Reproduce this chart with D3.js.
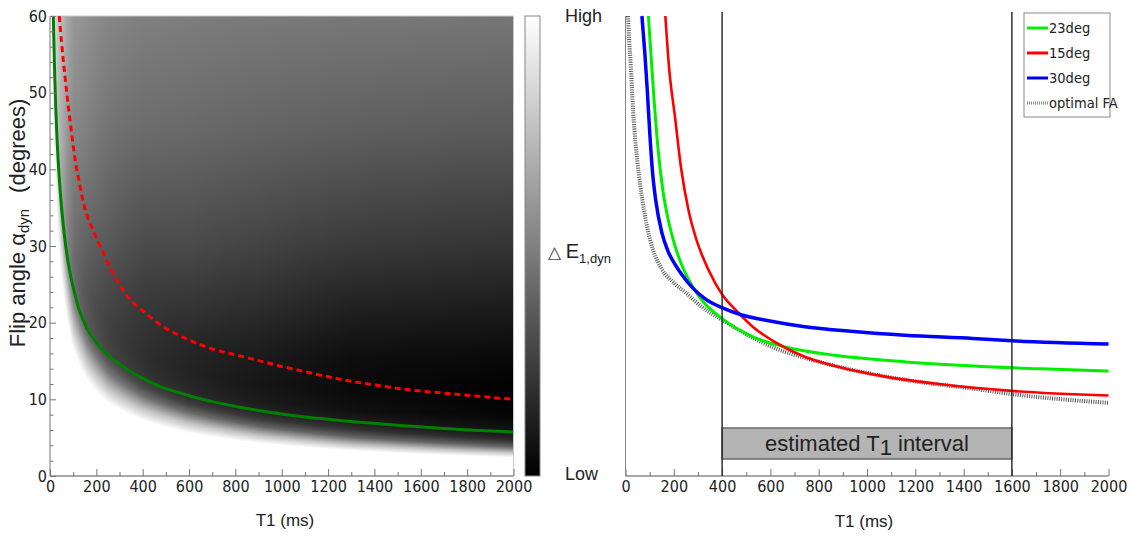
<!DOCTYPE html>
<html>
<head>
<meta charset="utf-8">
<script src="https://cdn.jsdelivr.net/npm/d3@7"></script>
<style>
  html, body { margin: 0; padding: 0; background: #fff; }
  svg { display: block; }
</style>
</head>
<body>
<svg id="chart" width="1132" height="536"></svg>
<script>
// ---------------- data ----------------
const t1MajorTicks = [0, 200, 400, 600, 800, 1000, 1200, 1400, 1600, 1800, 2000];
const t1MinorTicks = d3.range(100, 2000, 200);
const flipMajorTicks = [0, 10, 20, 30, 40, 50, 60];
const flipMinorTicks = d3.range(2, 60, 2).filter(v => v % 10 !== 0);

// Left panel: Ernst-angle curve (green)
const ernstT1    = [14, 16, 20, 25, 30, 37, 45, 55, 68, 80, 94, 110, 122, 140, 166, 195, 222, 260, 310, 360, 410, 480, 554, 620, 700, 780, 850, 920, 1000, 1100, 1200, 1320, 1420, 1560, 1700, 1850, 2000];
const ernstAlpha = [60.5, 57.6, 52.7, 47.9, 44.2, 40.3, 36.8, 33.4, 30.0, 27.6, 25.4, 23.4, 22.0, 20.6, 18.9, 17.6, 16.6, 15.5, 14.4, 13.4, 12.6, 11.6, 10.9, 10.3, 9.7, 9.2, 8.8, 8.45, 8.1, 7.7, 7.4, 7.05, 6.8, 6.5, 6.2, 5.95, 5.75];

// Left panel: optimal dynamic flip angle (red dashed)
const optT1    = [40, 50, 65, 80, 94, 110, 122, 140, 160, 194, 216, 266, 338, 410, 482, 554, 626, 698, 842, 986, 1130, 1274, 1418, 1562, 1706, 1850, 2000];
const optAlpha = [60, 56.5, 52, 48, 44.5, 41.0, 39.0, 36.2, 34.0, 31.5, 30.0, 26.8, 23.3, 21.3, 19.6, 18.4, 17.4, 16.6, 15.5, 14.4, 13.4, 12.5, 11.8, 11.2, 10.8, 10.4, 10.0];

// Left panel: ΔE map. For each T1 column, twelve [flip angle, gray] stops
// (white edge, three fade levels, green line, dark core, upper bands, top).
// Gray 0 = low, 255 = high.
const heatT1 = [10, 20, 35, 60, 100, 160, 250, 400, 600, 900, 1300, 2000];
const heatStops = [
  [[50, 255], [56, 252], [60, 250], [62, 249], [64, 248], [65, 248], [66, 247], [67, 247], [68, 246], [69, 246], [70, 246], [71, 245]],
  [[38, 255], [46, 242], [50, 235], [51.5, 231], [52.7, 228], [54, 227], [55, 226], [56, 225], [57, 224], [58, 223], [59, 222], [60, 222]],
  [[30, 255], [35, 232], [38.5, 208], [40, 200], [41.3, 195], [43, 194], [45, 193], [48, 192], [51, 193], [54, 195], [57, 197], [60, 198]],
  [[23, 255], [26.5, 218], [29.5, 175], [31, 160], [32.2, 152], [35, 153], [38, 156], [41, 160], [45, 165], [50, 170], [55, 174], [60, 178]],
  [[16.5, 255], [19.5, 200], [22.5, 142], [24, 122], [25.2, 112], [27.5, 110], [30, 112], [35, 120], [40, 128], [45, 135], [52, 145], [60, 152]],
  [[12.5, 255], [15, 195], [17.5, 125], [18.8, 100], [20, 88], [22.5, 86], [25, 86], [30, 97], [35, 108], [40, 120], [50, 134], [60, 144]],
  [[9.5, 255], [11.5, 195], [13.5, 120], [14.9, 88], [16.1, 70], [18, 67], [20, 66], [25, 75], [30, 88], [36, 100], [48, 120], [60, 134]],
  [[7.3, 255], [8.8, 195], [10.5, 110], [11.7, 72], [12.8, 55], [14, 50], [16, 48], [20, 53], [25, 63], [32, 80], [45, 108], [60, 128]],
  [[5.6, 255], [6.9, 195], [8.3, 105], [9.4, 62], [10.4, 45], [11.7, 38], [13.5, 35], [17, 38], [22, 52], [30, 74], [45, 105], [60, 125]],
  [[4.3, 255], [5.3, 195], [6.5, 100], [7.5, 55], [8.5, 35], [10, 26], [12, 22], [16, 28], [21, 42], [30, 67], [45, 100], [60, 122]],
  [[3.3, 255], [4.1, 195], [5.1, 100], [6.1, 50], [7.1, 28], [8.5, 16], [11, 10], [15, 13], [21, 30], [30, 58], [45, 95], [60, 120]],
  [[2.4, 255], [3.0, 200], [3.8, 100], [4.7, 42], [5.7, 20], [8, 5], [11, 0], [15, 8], [20, 22], [30, 52], [45, 90], [60, 118]]
];

// Right panel: ΔE (normalised, 0 = low, 1 = high) vs T1 for fixed flip angles
const seriesNames = ["23deg", "15deg", "30deg", "optimal FA"];
const deg23T1 = [95, 105, 118, 135, 155, 180, 205, 240, 280, 320, 400, 530, 665, 875, 1160, 1440, 1720, 2000];
const deg23E  = [1.0, 0.92, 0.82, 0.71, 0.62, 0.55, 0.50, 0.45, 0.41, 0.38, 0.342, 0.302, 0.280, 0.262, 0.248, 0.239, 0.233, 0.228];
const deg15T1 = [165, 180, 205, 230, 260, 290, 317, 371, 404, 458, 528, 623, 734, 875, 1087, 1298, 1600, 2000];
const deg15E  = [1.0, 0.89, 0.78, 0.67, 0.58, 0.52, 0.48, 0.42, 0.392, 0.36, 0.324, 0.29, 0.261, 0.238, 0.215, 0.200, 0.185, 0.175];
const deg30T1 = [68, 80, 90, 100, 112, 125, 150, 175, 205, 230, 276, 330, 404, 482, 598, 735, 946, 1157, 1438, 1600, 2000];
const deg30E  = [1.0, 0.92, 0.84, 0.75, 0.66, 0.60, 0.53, 0.49, 0.46, 0.44, 0.41, 0.385, 0.365, 0.35, 0.337, 0.325, 0.314, 0.306, 0.299, 0.294, 0.287];
const optFAT1 = [10, 15, 22, 32, 50, 70, 90, 115, 150, 200, 255, 310, 404, 528, 623, 734, 946, 1157, 1438, 1600, 2000];
const optFAE  = [1.0, 0.95, 0.89, 0.79, 0.68, 0.60, 0.54, 0.49, 0.45, 0.42, 0.396, 0.37, 0.338, 0.300, 0.277, 0.258, 0.230, 0.209, 0.190, 0.178, 0.159];

const intervalT1 = [400, 1600];
const intervalLabel = ["estimated T", "1", " interval"];

// ---------------- layout ----------------
const svg = d3.select("#chart");
const tickFont = "'Liberation Sans Narrow', 'Arial Narrow', 'DejaVu Sans Condensed', sans-serif";
const textFont = "'Liberation Sans', Arial, sans-serif";

const xL = d3.scaleLinear().domain([0, 2000]).range([50, 513.5]);
const yL = d3.scaleLinear().domain([0, 60]).range([476, 16]);
const xR = d3.scaleLinear().domain([0, 2000]).range([625.5, 1108.5]);
const yR = d3.scaleLinear().domain([0, 1]).range([476, 16]);

// ---------------- heat map ----------------
// stops of neighbouring columns are blended role by role (in log T1),
// then the gray is read off piecewise-linearly along the flip angle
function grayAt(stops, a) {
  if (a <= stops[0][0]) return stops[0][1];
  for (let i = 1; i < stops.length; i++) {
    if (a <= stops[i][0]) {
      const [a0, g0] = stops[i - 1], [a1, g1] = stops[i];
      return a1 === a0 ? g1 : g0 + (g1 - g0) * (a - a0) / (a1 - a0);
    }
  }
  return stops[stops.length - 1][1];
}
(function drawHeat() {
  const x0 = xL(0), y0 = yL(60);
  const w = Math.round(xL(2000) - x0), h = Math.round(yL(0) - y0);
  const canvas = document.createElement("canvas");
  canvas.width = w; canvas.height = h;
  const ctx = canvas.getContext("2d");
  const img = ctx.createImageData(w, h);
  const logT = heatT1.map(Math.log);
  const last = heatT1.length - 1;
  for (let px = 0; px < w; px++) {
    const t = xL.invert(x0 + px + 0.5);
    let stops = null;
    if (t > heatT1[0]) {
      if (t >= heatT1[last]) stops = heatStops[last];
      else {
        const j = d3.bisectRight(heatT1, t) - 1;
        const f = (Math.log(t) - logT[j]) / (logT[j + 1] - logT[j]);
        stops = heatStops[j].map((s, k) => [
          (1 - f) * s[0] + f * heatStops[j + 1][k][0],
          (1 - f) * s[1] + f * heatStops[j + 1][k][1]
        ]);
      }
    }
    for (let py = 0; py < h; py++) {
      const a = yL.invert(y0 + py + 0.5);
      const g = stops ? grayAt(stops, a) : 255;
      const k = (py * w + px) * 4;
      img.data[k] = img.data[k + 1] = img.data[k + 2] = Math.round(g);
      img.data[k + 3] = 255;
    }
  }
  ctx.putImageData(img, 0, 0);
  svg.append("image")
    .attr("x", x0).attr("y", y0).attr("width", w).attr("height", h)
    .attr("preserveAspectRatio", "none")
    .attr("href", canvas.toDataURL());
})();

// frame on the open sides of the map
svg.append("path")
  .attr("d", `M${xL(0)},${yL(60)}H${xL(2000)}V${yL(0)}`)
  .attr("fill", "none").attr("stroke", "#c8c8c8").attr("stroke-width", 1);

// left panel curves
const lineL = d3.line().x(d => xL(d[0])).y(d => yL(d[1])).curve(d3.curveMonotoneX);
svg.append("clipPath").attr("id", "clipL").append("rect")
  .attr("x", xL(0)).attr("y", yL(60)).attr("width", xL(2000) - xL(0)).attr("height", yL(0) - yL(60));

svg.append("path")
  .datum(ernstT1.map((t, i) => [t, ernstAlpha[i]]))
  .attr("clip-path", "url(#clipL)")
  .attr("d", lineL).attr("fill", "none").attr("stroke", "#008000").attr("stroke-width", 3);

svg.append("path")
  .datum(optT1.map((t, i) => [t, optAlpha[i]]))
  .attr("clip-path", "url(#clipL)")
  .attr("d", lineL).attr("fill", "none").attr("stroke", "#ff0000").attr("stroke-width", 3)
  .attr("stroke-dasharray", "6,4");

// ---------------- axes ----------------
function bottomAxis(scale, gy) {
  const g = svg.append("g").attr("transform", `translate(0,${gy})`);
  g.append("g").call(d3.axisBottom(scale).tickValues(t1MinorTicks).tickSize(-4).tickFormat(""))
    .call(s => s.select(".domain").remove())
    .call(s => s.selectAll("line").attr("stroke", "#777"));
  g.append("g").call(d3.axisBottom(scale).tickValues(t1MajorTicks).tickSize(-7).tickPadding(5).tickFormat(d3.format("d")))
    .call(s => s.select(".domain").remove())
    .call(s => s.selectAll("line").attr("stroke", "#777"))
    .call(s => s.selectAll("text").attr("font-family", tickFont).attr("font-size", 16).attr("fill", "#222"));
  g.append("line").attr("x1", scale.range()[0]).attr("x2", scale.range()[1])
    .attr("stroke", "#555").attr("stroke-width", 1);
}
bottomAxis(xL, 476);
bottomAxis(xR, 476);

(function leftAxis() {
  const g = svg.append("g").attr("transform", `translate(${xL(0)},0)`);
  g.append("g").call(d3.axisLeft(yL).tickValues(flipMinorTicks).tickSize(-3.5).tickFormat(""))
    .call(s => s.select(".domain").remove())
    .call(s => s.selectAll("line").attr("stroke", "#777"));
  g.append("g").call(d3.axisLeft(yL).tickValues(flipMajorTicks).tickSize(-6).tickPadding(3).tickFormat(d3.format("d")))
    .call(s => s.select(".domain").remove())
    .call(s => s.selectAll("line").attr("stroke", "#777"))
    .call(s => s.selectAll("text").attr("font-family", tickFont).attr("font-size", 16).attr("fill", "#222"));
  g.append("line").attr("y1", yL(0)).attr("y2", yL(60)).attr("stroke", "#777").attr("stroke-width", 1);
})();

// axis titles
svg.append("text").attr("x", 285).attr("y", 526).attr("text-anchor", "middle")
  .attr("font-family", textFont).attr("font-size", 17).attr("fill", "#222").text("T1 (ms)");
svg.append("text").attr("x", 864).attr("y", 527).attr("text-anchor", "middle")
  .attr("font-family", textFont).attr("font-size", 17).attr("fill", "#222").text("T1 (ms)");

(function yTitle() {
  const t = svg.append("text")
    .attr("transform", "translate(25,223) rotate(-90)")
    .attr("text-anchor", "middle")
    .attr("font-family", textFont).attr("font-size", 22).attr("fill", "#222");
  t.append("tspan").text("Flip angle \u03b1");
  t.append("tspan").attr("font-size", 15).attr("dy", 4).text("dyn");
  t.append("tspan").attr("dy", -4).attr("dx", 16).text("(degrees)");
})();

// ---------------- colour bar ----------------
const grad = svg.append("defs").append("linearGradient").attr("id", "cbar")
  .attr("x1", 0).attr("y1", 0).attr("x2", 0).attr("y2", 1);
grad.append("stop").attr("offset", "0%").attr("stop-color", "#ffffff");
grad.append("stop").attr("offset", "100%").attr("stop-color", "#000000");
svg.append("rect").attr("x", 525).attr("y", 16).attr("width", 15).attr("height", 460)
  .attr("fill", "url(#cbar)").attr("stroke", "#888").attr("stroke-width", 1);

svg.append("text").attr("x", 565).attr("y", 22).attr("font-family", textFont)
  .attr("font-size", 18).attr("fill", "#222").text("High");
svg.append("text").attr("x", 565).attr("y", 480).attr("font-family", textFont)
  .attr("font-size", 18).attr("fill", "#222").text("Low");
(function cbarTitle() {
  const t = svg.append("text").attr("x", 548).attr("y", 258)
    .attr("font-family", textFont).attr("font-size", 20).attr("fill", "#222");
  t.append("tspan").attr("font-size", 17).attr("fill", "#444").text("\u25b3 ");
  t.append("tspan").text("E");
  t.append("tspan").attr("font-size", 13).attr("dy", 5).text("1,dyn");
})();

// ---------------- right panel ----------------
svg.append("line").attr("x1", xR(0)).attr("x2", xR(0)).attr("y1", 16).attr("y2", 476)
  .attr("stroke", "#888").attr("stroke-width", 1);

// estimated T1 interval box
svg.append("rect")
  .attr("x", xR(intervalT1[0])).attr("y", 428)
  .attr("width", xR(intervalT1[1]) - xR(intervalT1[0])).attr("height", 31)
  .attr("fill", "#b4b4b4").attr("stroke", "#6a6a6a").attr("stroke-width", 1.5);
(function intervalText() {
  const t = svg.append("text")
    .attr("x", (xR(intervalT1[0]) + xR(intervalT1[1])) / 2).attr("y", 451)
    .attr("text-anchor", "middle")
    .attr("font-family", textFont).attr("font-size", 22).attr("fill", "#222");
  t.append("tspan").text(intervalLabel[0]);
  t.append("tspan").attr("dy", 4).text(intervalLabel[1]);
  t.append("tspan").attr("dy", -4).text(intervalLabel[2]);
})();

const lineR = d3.line().x(d => xR(d[0])).y(d => yR(d[1])).curve(d3.curveMonotoneX);
const pairs = (ts, vs) => ts.map((t, i) => [t, vs[i]]);

svg.append("path").datum(pairs(optFAT1, optFAE)).attr("d", lineR)
  .attr("fill", "none").attr("stroke", "#3a3a3a").attr("stroke-width", 4)
  .attr("stroke-dasharray", "1,1.3").attr("opacity", 0.85);
svg.append("path").datum(pairs(deg23T1, deg23E)).attr("d", lineR)
  .attr("fill", "none").attr("stroke", "#00ee00").attr("stroke-width", 3);
svg.append("path").datum(pairs(deg15T1, deg15E)).attr("d", lineR)
  .attr("fill", "none").attr("stroke", "#ff0000").attr("stroke-width", 2.6);
svg.append("path").datum(pairs(deg30T1, deg30E)).attr("d", lineR)
  .attr("fill", "none").attr("stroke", "#0000ff").attr("stroke-width", 3.5);

// interval boundaries
intervalT1.forEach(t => {
  svg.append("line").attr("x1", xR(t)).attr("x2", xR(t)).attr("y1", 12).attr("y2", 476)
    .attr("stroke", "#222").attr("stroke-width", 1.4);
});

// legend
(function legend() {
  const lg = svg.append("g").attr("transform", "translate(1024,13)");
  lg.append("rect").attr("width", 86).attr("height", 104)
    .attr("fill", "#fff").attr("stroke", "#888").attr("stroke-width", 1);
  const colors = ["#00ee00", "#ff0000", "#0000ff", "#555"];
  seriesNames.forEach((name, i) => {
    const y = 15 + i * 25;
    const ln = lg.append("line").attr("x1", 3).attr("x2", 24).attr("y1", y).attr("y2", y)
      .attr("stroke", colors[i]).attr("stroke-width", 3);
    if (i === 3) ln.attr("stroke-dasharray", "1,1").attr("opacity", 0.7);
    lg.append("text").attr("x", 25).attr("y", y + 5)
      .attr("font-family", tickFont).attr("font-size", 14.5).attr("fill", "#222").text(name);
  });
})();
</script>
</body>
</html>
